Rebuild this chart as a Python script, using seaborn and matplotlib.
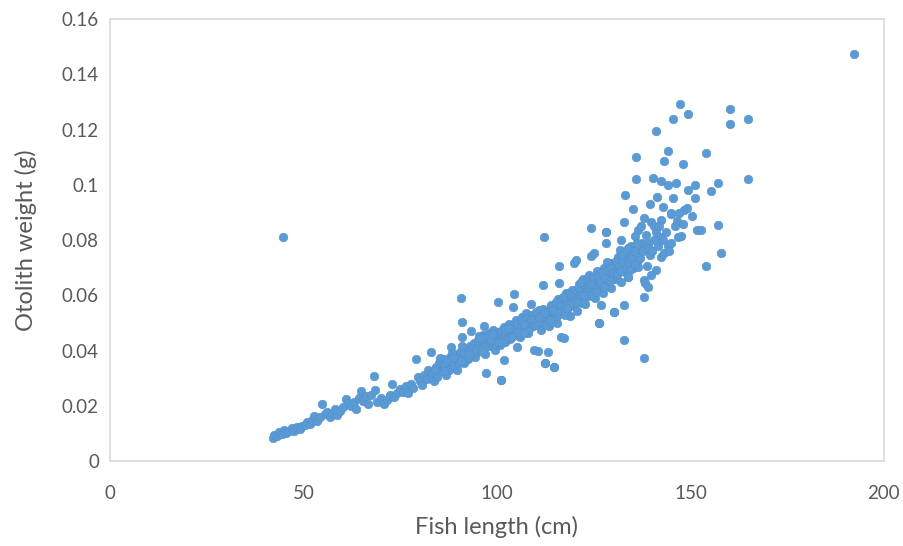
import numpy as np
import pandas as pd
import matplotlib
matplotlib.use('Agg')
import matplotlib.pyplot as plt
import seaborn as sns
from matplotlib.ticker import FuncFormatter

# Values (fish length in cm, otolith weight in g)

# main band, first pass
band_length = [
    42.0, 42.5, 43.2, 43.8, 44.5, 45.0, 45.6, 46.3, 47.0, 47.5, 48.2, 49.0, 49.6, 50.3, 51.0, 51.6,
    52.3, 52.8, 53.5, 54.2, 54.8, 55.5, 56.1, 56.8, 57.5, 58.2, 58.7, 59.5, 60.3, 60.9, 61.5, 62.2,
    63.0, 63.6, 64.3, 64.8, 65.5, 66.2, 66.8, 67.5, 68.2, 68.5, 69.1, 70.0, 70.8, 71.5, 72.3, 73.0,
    73.5, 74.3, 75.0, 75.8, 76.5, 77.0, 77.7, 78.3, 79.0, 79.5, 80.0, 80.6, 81.2, 81.8, 82.3, 82.9,
    83.3, 83.8, 84.3, 84.6, 85.0, 85.5, 86.0, 86.4, 86.9, 87.3, 87.8, 88.1, 88.5, 88.9, 89.3, 89.7,
    90.1, 90.5, 90.7, 91.0, 91.1, 91.4, 91.8, 92.2, 92.6, 93.0, 93.3, 93.6, 94.0, 94.4, 94.8, 95.2,
    95.6, 96.0, 96.4, 96.7, 97.0, 97.3, 97.5, 97.9, 98.3, 98.7, 99.1, 99.5, 99.9, 100.2, 100.4, 100.8,
    101.0, 101.3, 101.7, 101.9, 102.2, 102.6, 103.0, 103.4, 103.8, 104.1, 104.5, 104.7, 105.0, 105.3,
    105.6, 106.0, 106.4, 106.8, 107.2, 107.6, 108.0, 108.4, 108.8, 109.2, 109.7, 110.0, 110.4, 110.6,
    110.9, 111.3, 111.8, 112.3, 112.6, 113.0, 113.2, 113.5, 113.9, 114.3, 114.8, 115.0, 115.4, 115.8,
    116.1, 116.1, 116.6, 116.9, 117.3, 117.4, 117.8, 118.2, 118.6, 119.0, 119.4, 119.8, 120.0, 120.2,
    120.5, 120.7, 121.1, 121.5, 121.9, 122.3, 122.7, 123.1, 123.5, 123.9, 124.4, 124.6, 125.0, 125.1,
    125.4, 125.8, 126.2, 126.4, 126.9, 127.0, 127.4, 127.8, 128.2, 128.2, 128.6, 129.0, 129.4, 129.8,
    130.3, 130.5, 130.9, 131.3, 131.7, 132.1, 132.1, 132.5, 132.9, 133.2, 133.6, 133.9, 134.3, 134.7,
    135.2, 135.6, 136.4, 136.5, 136.5, 136.9, 137.3, 137.6, 138.1, 138.1, 138.2, 138.5, 139.0, 139.1,
    139.5, 139.9, 139.9, 140.7, 141.2, 141.6, 142.2, 142.5, 142.5, 143.3, 144.3, 145.1, 145.1, 145.1,
    146.0, 146.9, 147.7, 148.4, 149.0, 150.3, 151.6, 152.8, 157.2, 158.0, 154.1,
]
band_weight = [
    0.0085, 0.0095, 0.0090, 0.0105, 0.0098, 0.0112, 0.0102, 0.0108, 0.0118, 0.0110, 0.0122, 0.0115, 0.0128, 0.0132, 0.0140, 0.0135,
    0.0150, 0.0162, 0.0145, 0.0158, 0.0205, 0.0170, 0.0178, 0.0160, 0.0172, 0.0190, 0.0168, 0.0182, 0.0195, 0.0225, 0.0210, 0.0200,
    0.0212, 0.0190, 0.0228, 0.0252, 0.0218, 0.0235, 0.0205, 0.0240, 0.0308, 0.0258, 0.0215, 0.0228, 0.0205, 0.0222, 0.0240, 0.0278,
    0.0232, 0.0248, 0.0262, 0.0250, 0.0272, 0.0245, 0.0280, 0.0265, 0.0370, 0.0305, 0.0290, 0.0275, 0.0312, 0.0298, 0.0330, 0.0395,
    0.0318, 0.0288, 0.0340, 0.0305, 0.0355, 0.0325, 0.0368, 0.0338, 0.0312, 0.0350, 0.0378, 0.0412, 0.0342, 0.0362, 0.0385, 0.0330,
    0.0372, 0.0395, 0.0590, 0.0505, 0.0450, 0.0355, 0.0382, 0.0405, 0.0368, 0.0418, 0.0472, 0.0390, 0.0428, 0.0375, 0.0410, 0.0440,
    0.0398, 0.0425, 0.0455, 0.0490, 0.0388, 0.0318, 0.0432, 0.0462, 0.0415, 0.0445, 0.0475, 0.0402, 0.0438, 0.0575, 0.0468, 0.0420,
    0.0292, 0.0452, 0.0485, 0.0365, 0.0430, 0.0462, 0.0498, 0.0442, 0.0475, 0.0558, 0.0605, 0.0455, 0.0510, 0.0412,
    0.0485, 0.0448, 0.0522, 0.0470, 0.0500, 0.0535, 0.0462, 0.0512, 0.0570, 0.0488, 0.0402, 0.0525, 0.0495, 0.0400,
    0.0548, 0.0475, 0.0638, 0.0355, 0.0508, 0.0540, 0.0395, 0.0488, 0.0565, 0.0520, 0.0342, 0.0552, 0.0500, 0.0585,
    0.0645, 0.0705, 0.0450, 0.0538, 0.0572, 0.0445, 0.0608, 0.0550, 0.0590, 0.0525, 0.0620, 0.0565, 0.0716, 0.0598,
    0.0728, 0.0545, 0.0640, 0.0582, 0.0612, 0.0660, 0.0570, 0.0630, 0.0598, 0.0675, 0.0741, 0.0615, 0.0648, 0.0755,
    0.0590, 0.0688, 0.0632, 0.0500, 0.0565, 0.0665, 0.0610, 0.0700, 0.0790, 0.0830, 0.0645, 0.0682, 0.0625, 0.0718,
    0.0541, 0.0660, 0.0695, 0.0740, 0.0766, 0.0800, 0.0650, 0.0710, 0.0566, 0.0685, 0.0730, 0.0668, 0.0755, 0.0777,
    0.0700, 0.0814, 0.0729, 0.0838, 0.0704, 0.0760, 0.0850, 0.0790, 0.0657, 0.0595, 0.0645, 0.0820, 0.0790, 0.0631,
    0.0745, 0.0864, 0.0675, 0.0850, 0.0693, 0.0780, 0.0810, 0.0874, 0.0740, 0.0754, 0.0777, 0.0893, 0.0900, 0.0790,
    0.0850, 0.0813, 0.0814, 0.0910, 0.0917, 0.0886, 0.0838, 0.0838, 0.0856, 0.0754, 0.0705,
]

# main band, filler pass for the dense core
core_length = [
    84.0, 85.2, 86.2, 87.0, 87.6, 88.3, 89.0, 89.5, 90.3, 90.9, 91.6, 92.4, 92.9, 93.8, 94.2, 95.0,
    95.4, 95.9, 96.6, 97.2, 97.7, 98.1, 98.9, 99.3, 99.7, 100.0, 100.6, 101.1, 101.5, 102.0, 102.4, 102.8,
    103.2, 103.6, 104.0, 104.3, 104.9, 105.2, 105.8, 106.2, 106.6, 107.0, 107.4, 107.8, 108.2, 108.6, 109.0,
    109.4, 109.9, 110.2, 110.7, 111.1, 111.5, 112.0, 112.4, 112.8, 113.3, 113.7, 114.1, 114.5, 114.9, 115.2,
    115.6, 116.3, 116.7, 117.1, 117.6, 118.0, 118.4, 118.8, 119.2, 119.6, 120.4, 120.9, 121.3, 121.7, 122.1,
    122.5, 122.9, 123.3, 123.7, 124.1, 124.8, 125.2, 125.6, 126.0, 126.6, 127.2, 127.6, 128.0, 128.4, 128.8,
    129.2, 129.6, 130.1, 130.7, 131.1, 131.5, 131.9, 132.3, 132.7, 133.4, 133.8, 134.1, 134.5, 134.9, 135.4,
    135.8, 136.2, 137.0, 137.8, 138.8, 139.3, 140.0, 140.5, 141.0, 141.8, 142.8, 143.8, 144.6, 146.5, 147.0,
    148.0, 143.0, 138.0, 139.5, 141.4,
    # extra thickness of the band between 85 and 125
    86.5, 88.7, 90.8, 92.7, 94.6, 96.2, 98.5, 100.3, 102.1, 103.9, 105.5, 107.1, 108.9, 110.5, 112.2,
    113.8, 115.5, 117.2, 118.9, 120.6, 122.4, 124.2, 95.8, 99.0, 103.0, 106.9, 111.0, 114.6, 118.1, 121.6,
]
core_weight = [
    0.0335, 0.0372, 0.0350, 0.0365, 0.0330, 0.0390, 0.0348, 0.0372, 0.0355, 0.0415, 0.0392, 0.0378, 0.0400, 0.0408, 0.0395, 0.0420,
    0.0452, 0.0410, 0.0435, 0.0415, 0.0448, 0.0430, 0.0422, 0.0458, 0.0425, 0.0448, 0.0440, 0.0470, 0.0432, 0.0455, 0.0478, 0.0448,
    0.0465, 0.0490, 0.0458, 0.0482, 0.0470, 0.0495, 0.0460, 0.0492, 0.0508, 0.0480, 0.0518, 0.0495, 0.0478, 0.0500, 0.0530,
    0.0510, 0.0492, 0.0540, 0.0515, 0.0502, 0.0530, 0.0552, 0.0520, 0.0492, 0.0528, 0.0545, 0.0505, 0.0560, 0.0535, 0.0575,
    0.0525, 0.0560, 0.0590, 0.0548, 0.0530, 0.0575, 0.0605, 0.0560, 0.0598, 0.0580, 0.0618, 0.0588, 0.0625, 0.0600, 0.0572,
    0.0640, 0.0612, 0.0650, 0.0625, 0.0600, 0.0662, 0.0632, 0.0612, 0.0670, 0.0648, 0.0685, 0.0630, 0.0662, 0.0720, 0.0690,
    0.0652, 0.0700, 0.0680, 0.0725, 0.0672, 0.0705, 0.0688, 0.0745, 0.0720, 0.0700, 0.0770, 0.0720, 0.0690, 0.0740, 0.0760,
    0.0715, 0.0790, 0.0735, 0.0760, 0.0705, 0.0770, 0.0760, 0.0800, 0.0830, 0.0850, 0.0800, 0.0830, 0.0760, 0.0870, 0.0900,
    0.0860, 0.0920, 0.0880, 0.0930, 0.0955,
    0.0325, 0.0378, 0.0362, 0.0388, 0.0402, 0.0398, 0.0440, 0.0432, 0.0475, 0.0448, 0.0468, 0.0462, 0.0515, 0.0505, 0.0535,
    0.0512, 0.0540, 0.0595, 0.0570, 0.0575, 0.0600, 0.0640, 0.0445, 0.0460, 0.0482, 0.0498, 0.0520, 0.0548, 0.0555, 0.0648,
]

# scattered points away from the band
outlier_length = [
    44.8, 112.1, 112.3, 114.8, 132.9, 138.1, 124.4, 128.2, 132.9, 133.0, 135.1, 136.0, 136.0, 140.3,
    141.2, 142.5, 143.3, 144.2, 144.2, 145.5, 145.5, 146.4, 147.4, 148.1, 149.4, 149.4, 151.1, 151.1,
    154.1, 155.4, 157.2, 160.2, 160.2, 165.0, 165.0, 192.2, 130.3, 126.4, 133.9, 101.0,
]
outlier_weight = [
    0.0810, 0.0812, 0.0355, 0.0342, 0.0439, 0.0374, 0.0844, 0.0830, 0.0864, 0.0965, 0.0911, 0.1102, 0.1020, 0.1026,
    0.1195, 0.1013, 0.1086, 0.1122, 0.1001, 0.1237, 0.0953, 0.1008, 0.1292, 0.1074, 0.1256, 0.0983, 0.1001, 0.0953,
    0.1116, 0.0977, 0.1008, 0.1276, 0.1220, 0.1237, 0.1020, 0.1473, 0.0541, 0.0500, 0.0668, 0.0292,
]

df = pd.DataFrame({
    'length': band_length + core_length + outlier_length,
    'weight': band_weight + core_weight + outlier_weight,
})

sns.set_style('white')
plt.rcParams['font.family'] = ['Lato', 'DejaVu Sans']

fig = plt.figure(figsize=(9.04, 5.46), dpi=100)
ax = fig.add_axes([0.1217, 0.1557, 0.856, 0.809])

sns.scatterplot(data=df, x='length', y='weight', ax=ax, s=38,
                color='#5b9bd5', edgecolor='#5190cc', linewidth=0.4, zorder=3)

ax.set_xlim(0, 200)
ax.set_ylim(0, 0.16)
ax.set_xticks([0, 50, 100, 150, 200])
ax.set_yticks([0, 0.02, 0.04, 0.06, 0.08, 0.1, 0.12, 0.14, 0.16])
ax.yaxis.set_major_formatter(FuncFormatter(lambda v, p: '{:g}'.format(round(v, 2))))
ax.tick_params(length=0, labelsize=13.5, colors='#595959', pad=8)
ax.tick_params(axis='x', pad=17)

for side in ['left', 'bottom', 'right', 'top']:
    ax.spines[side].set_color('#d9d9d9')
    ax.spines[side].set_linewidth(1.2)

ax.set_xlabel('Fish length (cm)', fontsize=17, color='#595959', labelpad=10)
ax.set_ylabel('Otolith weight (g)', fontsize=17, color='#595959', labelpad=18)

fig.savefig('out.png', dpi=100)
